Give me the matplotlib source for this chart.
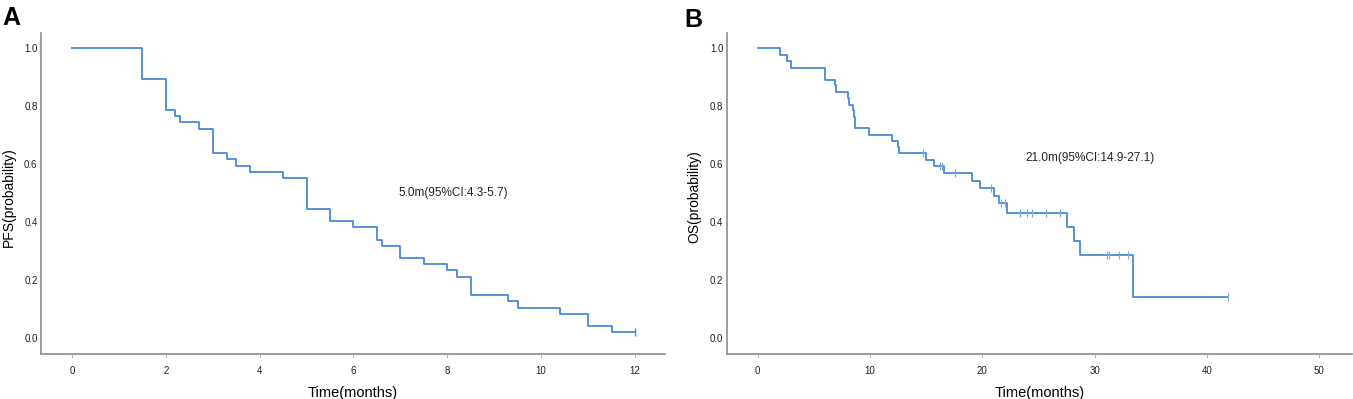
import numpy as np
import matplotlib
matplotlib.use("Agg")
import matplotlib.pyplot as plt

plt.rcParams['font.family'] = ['Liberation Sans', 'DejaVu Sans']

# PFS (panel A) - step times and survival
pfs_t = [0, 1.5, 2.0, 2.2, 2.3, 2.7, 3.0, 3.3, 3.5, 3.8, 4.5, 5.0, 5.5, 6.0, 6.5, 6.6,
         7.0, 7.5, 8.0, 8.2, 8.5, 9.3, 9.5, 10.4, 11.0, 11.5, 12.0]
pfs_s = [1.0, 0.894, 0.787, 0.766, 0.745, 0.723, 0.638, 0.617, 0.596, 0.574, 0.553,
         0.447, 0.404, 0.383, 0.340, 0.319, 0.277, 0.255, 0.234, 0.213, 0.149, 0.128,
         0.106, 0.085, 0.043, 0.021, 0.021]
pfs_cens_t = [12.0]
pfs_cens_s = [0.021]

# OS (panel B)
os_t = [0, 2.0, 2.6, 2.95, 6.0, 6.9, 7.0, 8.0, 8.1, 8.45, 8.55, 8.65, 9.9, 12.0, 12.5,
        12.6, 15.0, 15.7, 16.6, 19.05, 19.8, 21.05, 21.5, 22.2, 27.55, 28.2, 28.7,
        33.45, 41.9]
os_s = [1.0, 0.978, 0.956, 0.934, 0.892, 0.873, 0.850, 0.828, 0.806, 0.786, 0.765,
        0.724, 0.702, 0.681, 0.660, 0.638, 0.616, 0.595, 0.570, 0.543, 0.517, 0.490,
        0.466, 0.433, 0.384, 0.337, 0.288, 0.144, 0.144]
os_cens_t = [14.75, 16.2, 16.4, 17.6, 20.8, 21.7, 22.0, 23.4, 24.0, 24.4, 25.7, 26.9,
             31.1, 31.3, 32.2, 33.0, 41.9]
os_cens_s = [0.638, 0.595, 0.595, 0.570, 0.517, 0.466, 0.466, 0.433, 0.433, 0.433,
             0.433, 0.433, 0.288, 0.288, 0.288, 0.288, 0.144]

line_col = "#4a8ad6"
spine_col = "#8c8c8c"

fig = plt.figure(figsize=(13.53, 3.99), dpi=100)
axA = fig.add_axes([0.0303, 0.1128, 0.4612, 0.8045])
axB = fig.add_axes([0.5371, 0.1128, 0.4620, 0.8045])


def style(ax, xlim, xticks, ylabel):
    ax.set_xlim(*xlim)
    ax.set_ylim(-0.054, 1.053)
    ax.set_xticks(xticks)
    ax.set_yticks([0.0, 0.2, 0.4, 0.6, 0.8, 1.0])
    ax.set_yticklabels(["0.0", "0.2", "0.4", "0.6", "0.8", "1.0"])
    for s in ["top", "right"]:
        ax.spines[s].set_visible(False)
    for s in ["left", "bottom"]:
        ax.spines[s].set_color(spine_col)
        ax.spines[s].set_linewidth(1.2)
    ax.tick_params(axis="x", length=3, width=0.8, color="#bbbbbb", pad=6,
                   labelsize=7, labelcolor="#222222")
    ax.tick_params(axis="y", length=0, pad=2.5, labelsize=7, labelcolor="#222222")
    ax.set_xlabel("Time(months)", fontsize=10.5, labelpad=7)
    ax.set_ylabel(ylabel, fontsize=10, va="center")
    ax.yaxis.set_label_coords(-0.051, 0.49)


axA.step(pfs_t, pfs_s, where="post", color=line_col, lw=1.3)
axA.plot(pfs_cens_t, pfs_cens_s, ls="none", marker="|", ms=6, mew=1, color=line_col)
style(axA, (-0.66, 12.64), [0, 2, 4, 6, 8, 10, 12], "PFS(probability)")
axA.text(6.95, 0.502, "5.0m(95%CI:4.3-5.7)", fontsize=8.5, va="center", ha="left",
         color="#222222")

axB.step(os_t, os_s, where="post", color=line_col, lw=1.3)
axB.plot(os_cens_t, os_cens_s, ls="none", marker="|", ms=6, mew=0.8,
         color="#7aa9e0")
style(axB, (-2.76, 52.9), [0, 10, 20, 30, 40, 50], "OS(probability)")
axB.text(23.8, 0.623, "21.0m(95%CI:14.9-27.1)", fontsize=8.5, va="center",
         ha="left", color="#222222")

fig.text(0.0015, 0.985, "A", fontsize=18, fontweight="bold", va="top", ha="left")
fig.text(0.5055, 0.98, "B", fontsize=18, fontweight="bold", va="top", ha="left")

fig.savefig("out.png", dpi=100)
